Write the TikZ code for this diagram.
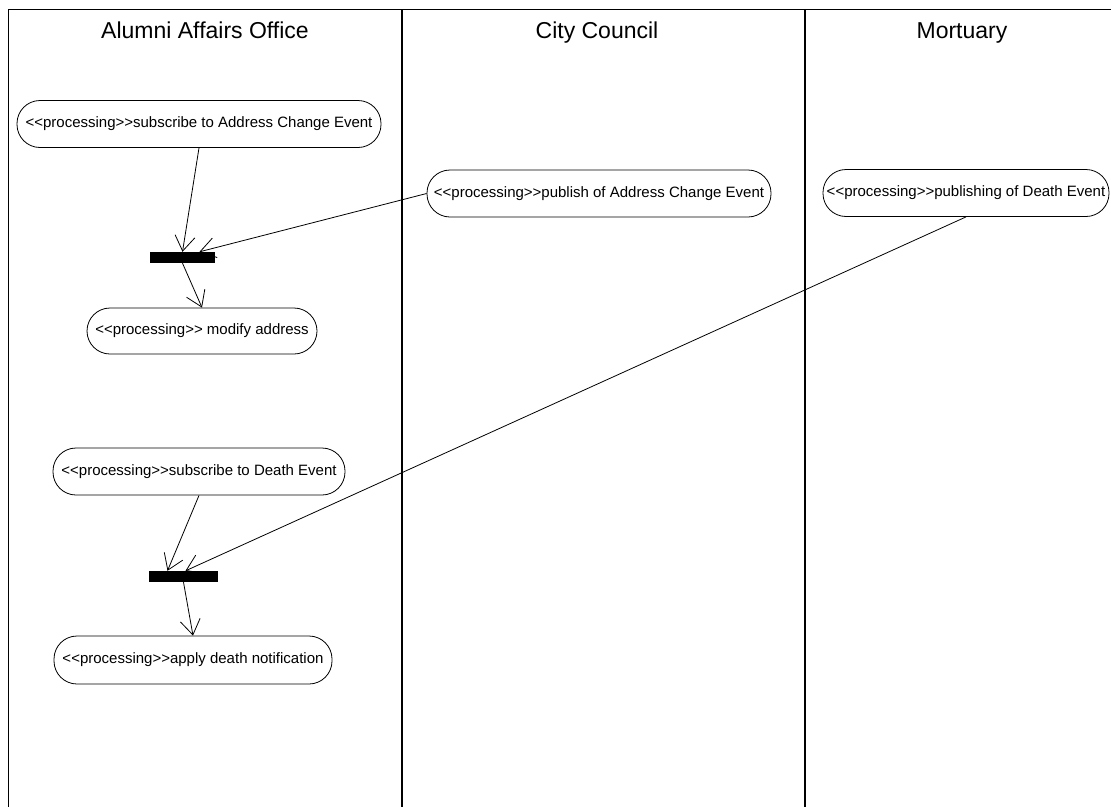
\documentclass[tikz,border=0pt]{standalone}
\usepackage{fontspec}
\setmainfont{Liberation Sans}
\usetikzlibrary{arrows.meta}
\begin{document}
\begin{tikzpicture}[x=1pt,y=-1pt,
  action/.style={draw,line width=0.8pt,rounded corners=23pt,inner sep=0pt,
    font=\fontsize{15}{18}\selectfont,minimum height=47pt},
  forkbar/.style={fill=black,inner sep=0pt,minimum height=11pt},
  flow/.style={line width=0.8pt,-{Straight Barb[length=15pt,width=20pt,line width=0.8pt]}},
  lanetitle/.style={anchor=base,font=\fontsize{23}{28}\selectfont},
  laneline/.style={line width=1.8pt},
  laneedge/.style={line width=1pt}]
\useasboundingbox (0,0) rectangle (1111,806);
\clip (0,0) rectangle (1111,806);

% swimlanes
\draw[laneedge] (8,9) -- (1125,9);
\draw[laneedge] (8,9) -- (8,810);
\draw[laneline] (402,9) -- (402,810);
\draw[laneline] (805,9) -- (805,810);

\node[lanetitle] (t1) at (205,38) {Alumni Affairs Office};
\node[lanetitle] (t2) at (597,38) {City Council};
\node[lanetitle] (t3) at (962,38) {Mortuary};

% actions
\node[action,minimum width=364pt] (subAC) at (199,124) {<{}<processing>{}>subscribe to Address Change Event};
\node[action,minimum width=344pt] (pubAC) at (599,193.5) {<{}<processing>{}>publish of Address Change Event};
\node[action,minimum width=286pt] (pubD) at (966,193) {<{}<processing>{}>publishing of Death Event};
\node[forkbar,minimum width=65pt] (bar1) at (182.5,257.5) {};
\node[action,minimum width=230pt,minimum height=46pt] (modify) at (202,331) {<{}<processing>{}> modify address};
\node[action,minimum width=292pt] (subD) at (199,471.5) {<{}<processing>{}>subscribe to Death Event};
\node[forkbar,minimum width=69pt] (bar2) at (183.5,576.5) {};
\node[action,minimum width=278pt,minimum height=48pt] (applyD) at (193,660) {<{}<processing>{}>apply death notification};

% flows
\draw[flow] (subAC.south) -- (bar1.north);
\draw[flow] (pubAC.west) -- ([xshift=17pt]bar1.north);
\draw[flow] (bar1.south) -- (modify.north);
\draw[flow] (subD.south) -- ([xshift=-16pt]bar2.north);
\draw[flow] (pubD.south) -- ([xshift=2pt]bar2.north);
\draw[flow] (bar2.south) -- (applyD.north);
\end{tikzpicture}
\end{document}
